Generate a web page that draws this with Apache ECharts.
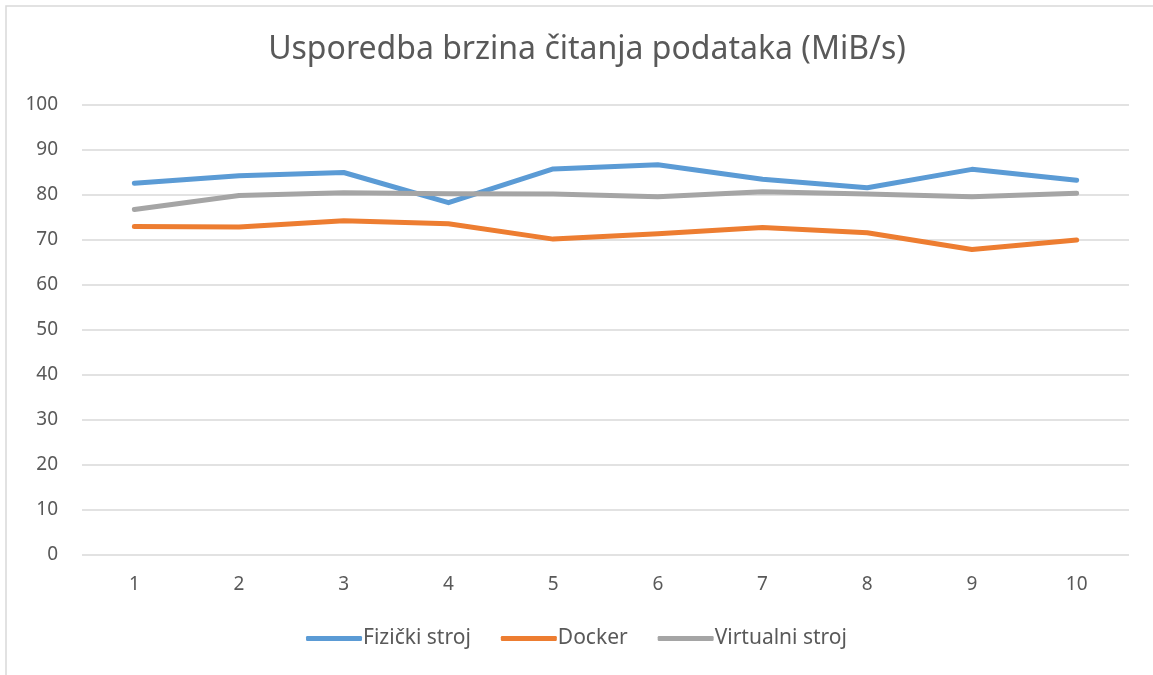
<!DOCTYPE html>
<html>
<head>
<meta charset="utf-8">
<script src="https://cdn.jsdelivr.net/npm/echarts@6/dist/echarts.min.js"></script>
<style>html,body{margin:0;padding:0;background:#fff}#c{width:1153px;height:675px}</style>
</head>
<body>
<div id="c"></div>
<script>
const categories = ['1','2','3','4','5','6','7','8','9','10'];
const fizicki = [82.6, 84.3, 85.0, 78.3, 85.8, 86.7, 83.5, 81.6, 85.7, 83.3];
const docker = [73.0, 72.9, 74.3, 73.6, 70.2, 71.4, 72.8, 71.6, 67.9, 70.0];
const virtualni = [76.8, 79.9, 80.5, 80.3, 80.2, 79.6, 80.7, 80.2, 79.6, 80.4];
const seriesNames = ['Fizički stroj', 'Docker', 'Virtualni stroj'];
const colors = ['#5B9BD5', '#ED7D31', '#A5A5A5'];

const font = 'Noto Sans';
const chart = echarts.init(document.getElementById('c'));
const mk = (name, data, color) => ({
  name, type: 'line', data, showSymbol: false, symbol: 'none',
  lineStyle: { width: 5, color, cap: 'round', join: 'round' },
  itemStyle: { color }
});
chart.setOption({
  animation: false,
  textStyle: { fontFamily: font },
  graphic: [{
    type: 'rect', shape: { x: 6, y: 6, width: 1300, height: 800 },
    style: { fill: 'none', stroke: '#d9d9d9', lineWidth: 1.5 }, silent: true
  }],
  title: {
    text: 'Usporedba brzina čitanja podataka (MiB/s)',
    left: 582, textAlign: 'center', top: 29,
    textStyle: { fontFamily: font, fontSize: 32, fontWeight: 'normal', color: '#595959' }
  },
  grid: { left: 82, right: 24, top: 105, bottom: 120, containLabel: false },
  xAxis: {
    type: 'category', data: categories, boundaryGap: true,
    axisLine: { show: false }, axisTick: { show: false },
    axisLabel: { color: '#595959', fontSize: 19, margin: 20, fontFamily: font }
  },
  yAxis: {
    type: 'value', min: 0, max: 100, interval: 10,
    axisLine: { show: false }, axisTick: { show: false },
    axisLabel: { color: '#595959', fontSize: 19, margin: 24, fontFamily: font },
    splitLine: { lineStyle: { color: '#d9d9d9', width: 1.5 } }
  },
  legend: {
    data: seriesNames, bottom: 21, left: 'center', itemGap: 30,
    itemWidth: 56, itemHeight: 5, icon: 'roundRect',
    textStyle: { color: '#595959', fontSize: 21, fontFamily: font, padding: [0, 0, 0, -4] }
  },
  series: [
    mk(seriesNames[0], fizicki, colors[0]),
    mk(seriesNames[1], docker, colors[1]),
    mk(seriesNames[2], virtualni, colors[2])
  ]
});
</script>
</body>
</html>
